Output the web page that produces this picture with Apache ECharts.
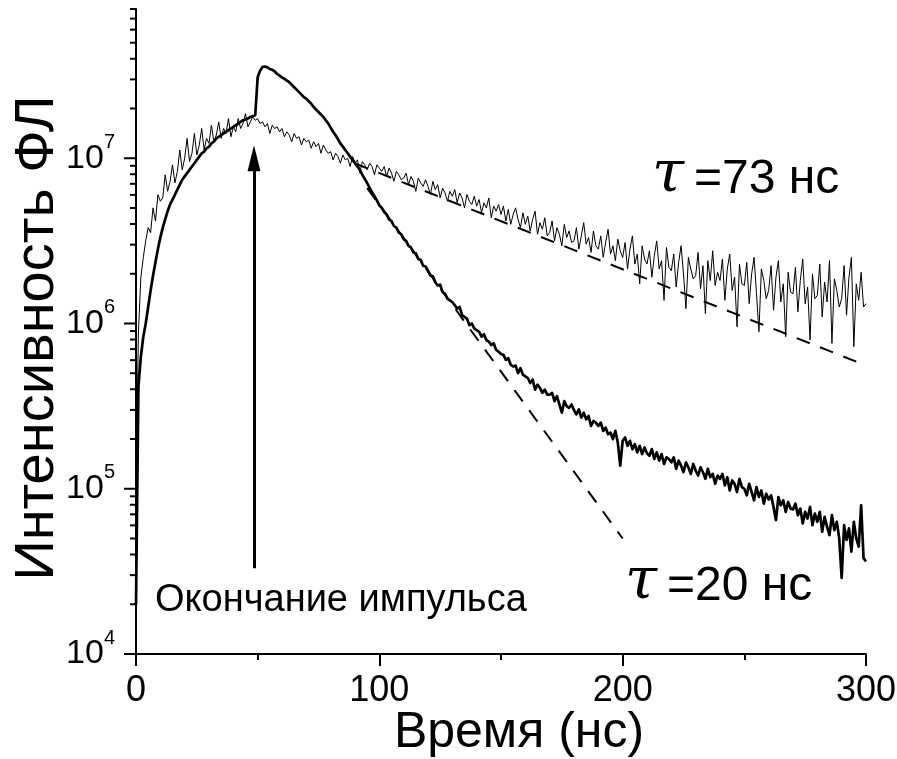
<!DOCTYPE html>
<html><head><meta charset="utf-8">
<script src="https://cdn.jsdelivr.net/npm/echarts@6/dist/echarts.min.js"></script>
<style>html,body{margin:0;padding:0;background:#fff}#c{width:897px;height:759px}</style>
</head><body><div id="c"></div>
<script>
// time axis (ns)
const timeNs = [
0,1,2,3,4,5,6,7,8,9,10,11,12,13,14,15,16,17,18,19,
20,21,22,23,24,25,26,27,28,29,30,31,32,33,34,35,36,37,38,39,
40,41,42,43,44,45,46,47,48,49,50,51,52,53,54,55,56,57,58,59,
60,61,62,63,64,65,66,67,68,69,70,71,72,73,74,75,76,77,78,79,
80,81,82,83,84,85,86,87,88,89,90,91,92,93,94,95,96,97,98,99,
100,101,102,103,104,105,106,107,108,109,110,111,112,113,114,115,116,117,118,119,
120,121,122,123,124,125,126,127,128,129,130,131,132,133,134,135,136,137,138,139,
140,141,142,143,144,145,146,147,148,149,150,151,152,153,154,155,156,157,158,159,
160,161,162,163,164,165,166,167,168,169,170,171,172,173,174,175,176,177,178,179,
180,181,182,183,184,185,186,187,188,189,190,191,192,193,194,195,196,197,198,199,
200,201,202,203,204,205,206,207,208,209,210,211,212,213,214,215,216,217,218,219,
220,221,222,223,224,225,226,227,228,229,230,231,232,233,234,235,236,237,238,239,
240,241,242,243,244,245,246,247,248,249,250,251,252,253,254,255,256,257,258,259,
260,261,262,263,264,265,266,267,268,269,270,271,272,273,274,275,276,277,278,279,
280,281,282,283,284,285,286,287,288,289,290,291,292,293,294,295,296,297,298,299,
300];

// log10 of PL intensity, thick curve (tau = 20 ns)
const thickLog10 = [
4.30,5.62,5.80,5.92,6.00,6.10,6.20,6.29,6.37,6.45,
6.52,6.58,6.63,6.68,6.72,6.75,6.78,6.81,6.84,6.87,
6.89,6.91,6.93,6.95,6.97,6.99,7.01,7.03,7.04,7.06,
7.07,7.09,7.10,7.12,7.13,7.14,7.15,7.16,7.17,7.18,
7.19,7.20,7.21,7.22,7.23,7.235,7.24,7.25,7.255,7.26,
7.49,7.53,7.553,7.555,7.55,7.54,7.535,7.525,7.51,7.50,
7.49,7.48,7.47,7.46,7.445,7.43,7.415,7.40,7.385,7.37,
7.36,7.345,7.33,7.31,7.295,7.28,7.265,7.25,7.23,7.21,
7.185,7.16,7.14,7.115,7.09,7.07,7.05,7.03,7.01,6.99,
6.97,6.95,6.93,6.90,6.875,6.85,6.82,6.795,6.77,6.745,
6.715,6.70,6.675,6.66,6.63,6.62,6.59,6.58,6.55,6.54,
6.51,6.50,6.47,6.46,6.43,6.425,6.39,6.385,6.35,6.345,
6.32,6.29,6.285,6.25,6.23,6.235,6.19,6.18,6.15,6.14,
6.13,6.11,6.09,6.10,6.05,6.04,6.03,5.99,6.00,5.97,
5.96,5.95,5.92,5.935,5.90,5.89,5.87,5.88,5.84,5.83,
5.815,5.81,5.78,5.79,5.75,5.74,5.745,5.70,5.73,5.69,
5.68,5.67,5.64,5.66,5.60,5.63,5.61,5.58,5.60,5.57,
5.57,5.58,5.53,5.56,5.51,5.46,5.53,5.50,5.49,5.51,
5.475,5.45,5.48,5.43,5.46,5.42,5.44,5.38,5.41,5.40,
5.38,5.40,5.35,5.37,5.33,5.34,5.30,5.35,5.28,5.14,
5.29,5.31,5.26,5.29,5.24,5.27,5.22,5.26,5.21,5.25,
5.215,5.20,5.24,5.18,5.22,5.17,5.21,5.15,5.19,5.18,
5.16,5.19,5.12,5.17,5.14,5.10,5.16,5.13,5.09,5.15,
5.11,5.08,5.13,5.10,5.06,5.12,5.07,5.09,5.03,5.08,
5.06,5.09,5.02,5.07,4.99,5.05,5.03,4.98,5.06,5.01,
5.00,4.96,5.03,4.98,4.93,5.01,4.95,4.99,4.91,4.97,
4.935,4.96,4.89,4.81,4.95,4.90,4.93,4.86,4.92,4.88,
4.875,4.91,4.84,4.88,4.79,4.86,4.82,4.89,4.78,4.85,
4.80,4.86,4.74,4.83,4.77,4.72,4.84,4.75,4.80,4.70,
4.46,4.78,4.69,4.76,4.62,4.80,4.70,4.65,4.90,4.58,
4.56];

// log10 of PL intensity, thin noisy curve (tau = 73 ns)
const thinLog10 = [
5.00,5.95,6.28,6.40,6.50,6.58,6.55,6.70,6.62,6.78,
6.74,6.76,6.90,6.80,6.86,6.96,6.85,6.92,7.05,6.93,
7.00,7.12,6.98,7.03,7.15,7.02,7.08,7.18,7.05,7.12,
7.09,7.20,7.10,7.14,7.22,7.12,7.18,7.15,7.24,7.13,
7.19,7.16,7.24,7.18,7.21,7.27,7.19,7.22,7.25,7.23,
7.24,7.21,7.22,7.19,7.21,7.15,7.20,7.18,7.19,7.16,
7.18,7.13,7.16,7.14,7.10,7.15,7.12,7.13,7.08,7.12,
7.10,7.11,7.06,7.10,7.07,7.09,7.03,7.08,7.05,7.03,
7.04,6.99,7.03,7.01,6.97,7.02,6.99,7.00,6.95,7.01,
6.97,6.99,6.91,6.98,6.96,6.93,6.97,6.95,6.90,6.96,
6.94,6.92,6.95,6.89,6.94,6.91,6.86,6.92,6.90,6.87,
6.88,6.91,6.84,6.89,6.86,6.80,6.88,6.85,6.83,6.87,
6.83,6.78,6.86,6.81,6.84,6.76,6.82,6.79,6.74,6.80,
6.77,6.81,6.73,6.79,6.76,6.70,6.78,6.74,6.72,6.77,
6.71,6.75,6.67,6.73,6.70,6.76,6.64,6.71,6.68,6.72,
6.66,6.71,6.62,6.69,6.60,6.66,6.70,6.63,6.58,6.67,
6.60,6.65,6.56,6.63,6.68,6.54,6.61,6.57,6.64,6.53,
6.55,6.62,6.50,6.58,6.54,6.47,6.60,6.52,6.56,6.49,
6.50,6.58,6.45,6.53,6.61,6.48,6.52,6.43,6.56,6.47,
6.45,6.53,6.40,6.49,6.57,6.42,6.47,6.38,6.51,6.44,
6.40,6.49,6.33,6.45,6.53,6.36,6.42,6.24,6.47,6.39,
6.36,6.44,6.28,6.41,6.50,6.33,6.38,6.14,6.46,6.34,
6.32,6.42,6.22,6.37,6.47,6.30,6.09,6.40,6.33,6.27,
6.29,6.43,6.21,6.35,6.06,6.38,6.26,6.44,6.23,6.31,
6.26,6.39,6.14,6.33,6.42,6.20,6.28,5.98,6.36,6.24,
6.23,6.37,6.12,6.30,6.40,6.18,5.95,6.33,6.26,6.15,
6.20,6.35,6.08,6.28,6.38,6.13,6.24,5.92,6.31,6.19,
6.18,6.34,6.07,6.26,6.39,6.12,6.22,5.90,6.30,6.15,
6.17,6.36,6.04,6.25,6.13,6.38,5.88,6.27,6.20,6.10,
6.15,6.35,6.05,6.28,6.40,5.86,6.24,6.14,6.31,6.10,
6.12];

// exponential fits (dashed)
const fit73Time = [90, 297];
const fit73Value = [9.3e6, 5.8e5];
const fit20Time = [95, 200];
const fit20Value = [6.6e6, 5.0e4];

// pulse-end arrow
const arrowTime = [48.5, 48.5];
const arrowValue = [3.3e4, 1.0e7];

// axis ticks
const xTickValues = [0, 100, 200, 300];
const yMajorTicks = [1e4, 1e5, 1e6, 1e7];
const yMinorTicks = [2e4,3e4,4e4,5e4,6e4,7e4,8e4,9e4,
  2e5,3e5,4e5,5e5,6e5,7e5,8e5,9e5,
  2e6,3e6,4e6,5e6,6e6,7e6,8e6,9e6,
  2e7,3e7,4e7,5e7,6e7,7e7,8e7];

// texts
const xTitle = 'Время (нс)';
const yTitle = 'Интенсивность ФЛ';
const tauSymbol = 'τ';
const label73 = '=73 нс';
const label20 = '=20 нс';
const arrowText = 'Окончание импульса';

const FONT = 'Liberation Sans, Arial, sans-serif';
const pairs = (xs, ys) => xs.map((x, i) => [x, ys[i]]);
const fromLog = (xs, ls) => xs.map((x, i) => [x, Math.pow(10, ls[i])]);

const tickData = yMajorTicks.map(v => [0, v, 1]).concat(yMinorTicks.map(v => [0, v, 0]));

const tauStyle = {fontFamily: 'DejaVu Serif', fontStyle: 'italic', fontSize: 58, fill: '#000',
  verticalAlign: 'middle', align: 'left'};
const valStyle = {fontFamily: FONT, fontSize: 48, fill: '#000', verticalAlign: 'middle', align: 'left'};

const chart = echarts.init(document.getElementById('c'), null, {renderer: 'canvas'});
chart.setOption({
  animation: false,
  backgroundColor: '#fff',
  grid: {left: 136, right: 31, top: 9, bottom: 105, containLabel: false, outerBoundsMode: 'none'},
  xAxis: {
    type: 'value', min: 0, max: 300, interval: 100,
    name: xTitle, nameLocation: 'middle', nameGap: 54, nameMoveOverlap: false,
    nameTextStyle: {fontFamily: FONT, fontSize: 50, color: '#000', padding: [0, 0, 0, 36]},
    axisLine: {show: true, onZero: false, lineStyle: {color: '#000', width: 2}},
    axisTick: {show: true, inside: false, length: 12, lineStyle: {color: '#000', width: 2}},
    minorTick: {show: true, splitNumber: 2, length: 6, lineStyle: {color: '#000', width: 2}},
    axisLabel: {fontFamily: FONT, fontSize: 36, color: '#000', margin: 19},
    splitLine: {show: false}
  },
  yAxis: {
    type: 'log', logBase: 10, min: 1e4, max: 8e7,
    name: yTitle, nameLocation: 'middle', nameGap: 70, nameRotate: 90, nameMoveOverlap: false,
    nameTextStyle: {fontFamily: FONT, fontSize: 56, color: '#000', padding: [0, 13, 0, 0]},
    axisLine: {show: true, lineStyle: {color: '#000', width: 2}},
    axisTick: {show: false},
    minorTick: {show: false},
    splitLine: {show: false},
    axisLabel: {
      margin: 21, showMaxLabel: false,
      verticalAlignMinLabel: 'middle',
      formatter: function (v) {
        const l = Math.log10(v); const e = Math.round(l);
        if (Math.abs(l - e) > 1e-6) return '';
        return '{b|10}{s|' + e + '}';
      },
      rich: {
        b: {fontFamily: FONT, fontSize: 34, lineHeight: 52, color: '#000'},
        s: {fontFamily: FONT, fontSize: 20, lineHeight: 20, verticalAlign: 'top', color: '#000'}
      }
    }
  },
  series: [
    {
      type: 'custom', name: 'yticks', clip: false, silent: true,
      data: tickData,
      renderItem: function (params, api) {
        const p = api.coord([0, api.value(1)]);
        const len = api.value(2) ? 12 : 6;
        return {type: 'line', shape: {x1: p[0] - len, y1: p[1], x2: p[0], y2: p[1]},
          style: {stroke: '#000', lineWidth: 2}};
      }
    },
    {
      type: 'line', name: 'fit73', data: pairs(fit73Time, fit73Value), showSymbol: false, silent: true,
      lineStyle: {color: '#000', width: 2, type: [14, 11]}
    },
    {
      type: 'line', name: 'fit20', data: pairs(fit20Time, fit20Value), showSymbol: false, silent: true,
      lineStyle: {color: '#000', width: 2, type: [14, 11]}
    },
    {
      type: 'line', name: 'thin', data: fromLog(timeNs, thinLog10), showSymbol: false, silent: true,
      lineStyle: {color: '#000', width: 1}
    },
    {
      type: 'line', name: 'thick', data: fromLog(timeNs, thickLog10), showSymbol: false, silent: true,
      lineStyle: {color: '#000', width: 2.7, join: 'round'},
      markLine: {
        silent: true, symbol: ['none', 'triangle'], symbolSize: [13, 26],
        label: {show: false},
        lineStyle: {color: '#000', width: 3, type: 'solid'},
        data: [[{coord: [arrowTime[0], arrowValue[0]]}, {coord: [arrowTime[1], arrowValue[1]]}]]
      }
    }
  ],
  graphic: [
    {type: 'text', x: 652, y: 176, silent: true, style: Object.assign({text: tauSymbol}, tauStyle)},
    {type: 'text', x: 694, y: 180, silent: true, style: Object.assign({text: label73}, valStyle)},
    {type: 'text', x: 625, y: 583, silent: true, style: Object.assign({text: tauSymbol}, tauStyle)},
    {type: 'text', x: 667, y: 587, silent: true, style: Object.assign({text: label20}, valStyle)},
    {type: 'text', x: 155, y: 601, silent: true, style: {
      text: arrowText, verticalAlign: 'middle', align: 'left',
      fontFamily: FONT, fontSize: 38, fill: '#000'}}
  ]
});
</script></body></html>
